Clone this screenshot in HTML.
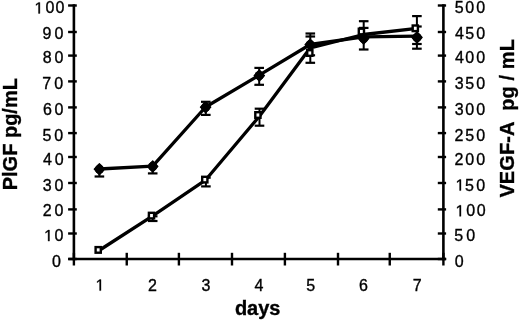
<!DOCTYPE html><html><head><meta charset="utf-8"><style>html,body{margin:0;padding:0;background:#fff;width:520px;height:320px;overflow:hidden}svg{display:block;will-change:transform}text{font-family:"Liberation Sans",sans-serif;fill:#000;stroke:#000;stroke-width:0.35px}</style></head><body>
<svg width="520" height="320" viewBox="0 0 520 320">
<rect width="520" height="320" fill="#fff"/>
<line x1="73.9" y1="4.3" x2="73.9" y2="260.2" stroke="#000" stroke-width="2.6"/>
<line x1="443.4" y1="4.3" x2="443.4" y2="260.2" stroke="#000" stroke-width="2.6"/>
<line x1="68.30000000000001" y1="259.0" x2="446.2" y2="259.0" stroke="#000" stroke-width="2.4"/>
<line x1="68.1" y1="5.5" x2="76.8" y2="5.5" stroke="#000" stroke-width="2.4"/>
<line x1="437.8" y1="5.5" x2="446.1" y2="5.5" stroke="#000" stroke-width="2.4"/>
<line x1="68.1" y1="32" x2="76.8" y2="32" stroke="#000" stroke-width="2.4"/>
<line x1="437.8" y1="32" x2="446.1" y2="32" stroke="#000" stroke-width="2.4"/>
<line x1="68.1" y1="55.6" x2="76.8" y2="55.6" stroke="#000" stroke-width="2.4"/>
<line x1="437.8" y1="55.6" x2="446.1" y2="55.6" stroke="#000" stroke-width="2.4"/>
<line x1="68.1" y1="81.4" x2="76.8" y2="81.4" stroke="#000" stroke-width="2.4"/>
<line x1="437.8" y1="81.4" x2="446.1" y2="81.4" stroke="#000" stroke-width="2.4"/>
<line x1="68.1" y1="107.4" x2="76.8" y2="107.4" stroke="#000" stroke-width="2.4"/>
<line x1="437.8" y1="107.4" x2="446.1" y2="107.4" stroke="#000" stroke-width="2.4"/>
<line x1="68.1" y1="133.1" x2="76.8" y2="133.1" stroke="#000" stroke-width="2.4"/>
<line x1="437.8" y1="133.1" x2="446.1" y2="133.1" stroke="#000" stroke-width="2.4"/>
<line x1="68.1" y1="157" x2="76.8" y2="157" stroke="#000" stroke-width="2.4"/>
<line x1="437.8" y1="157" x2="446.1" y2="157" stroke="#000" stroke-width="2.4"/>
<line x1="68.1" y1="183" x2="76.8" y2="183" stroke="#000" stroke-width="2.4"/>
<line x1="437.8" y1="183" x2="446.1" y2="183" stroke="#000" stroke-width="2.4"/>
<line x1="68.1" y1="209.4" x2="76.8" y2="209.4" stroke="#000" stroke-width="2.4"/>
<line x1="437.8" y1="209.4" x2="446.1" y2="209.4" stroke="#000" stroke-width="2.4"/>
<line x1="68.1" y1="233.5" x2="76.8" y2="233.5" stroke="#000" stroke-width="2.4"/>
<line x1="437.8" y1="233.5" x2="446.1" y2="233.5" stroke="#000" stroke-width="2.4"/>
<line x1="68.1" y1="259" x2="76.8" y2="259" stroke="#000" stroke-width="2.4"/>
<line x1="437.8" y1="259" x2="446.1" y2="259" stroke="#000" stroke-width="2.4"/>
<line x1="73.9" y1="252.8" x2="73.9" y2="265.5" stroke="#000" stroke-width="2.4"/>
<line x1="126.75" y1="252.8" x2="126.75" y2="265.5" stroke="#000" stroke-width="2.4"/>
<line x1="178.9" y1="252.8" x2="178.9" y2="265.5" stroke="#000" stroke-width="2.4"/>
<line x1="232.0" y1="252.8" x2="232.0" y2="265.5" stroke="#000" stroke-width="2.4"/>
<line x1="284.9" y1="252.8" x2="284.9" y2="265.5" stroke="#000" stroke-width="2.4"/>
<line x1="338.0" y1="252.8" x2="338.0" y2="265.5" stroke="#000" stroke-width="2.4"/>
<line x1="389.75" y1="252.8" x2="389.75" y2="265.5" stroke="#000" stroke-width="2.4"/>
<line x1="443.4" y1="252.8" x2="443.4" y2="265.5" stroke="#000" stroke-width="2.4"/>
<polyline fill="none" stroke="#000" stroke-width="3.3" stroke-linejoin="round" points="99.8,250.0 152.7,215.8 205.8,179.8 259.6,116.0 310.3,47.8 363.7,34.5 417.0,28.3"/>
<polyline fill="none" stroke="#000" stroke-width="3.3" stroke-linejoin="round" points="99.4,169.0 152.7,166.2 205.6,107.0 259.3,75.2 310.2,44.5 363.6,36.8 417.0,36.2"/>
<line x1="99.4" y1="169.2" x2="99.4" y2="176.5" stroke="#000" stroke-width="2"/>
<line x1="94.60000000000001" y1="176.5" x2="104.2" y2="176.5" stroke="#000" stroke-width="2.2"/>
<line x1="152.7" y1="166.4" x2="152.7" y2="173.4" stroke="#000" stroke-width="2"/>
<line x1="147.89999999999998" y1="173.4" x2="157.5" y2="173.4" stroke="#000" stroke-width="2.2"/>
<line x1="205.8" y1="101.8" x2="205.8" y2="114.9" stroke="#000" stroke-width="2"/>
<line x1="201.0" y1="101.8" x2="210.60000000000002" y2="101.8" stroke="#000" stroke-width="2.2"/>
<line x1="201.0" y1="114.9" x2="210.60000000000002" y2="114.9" stroke="#000" stroke-width="2.2"/>
<line x1="259.2" y1="67.9" x2="259.2" y2="84.8" stroke="#000" stroke-width="2"/>
<line x1="254.39999999999998" y1="67.9" x2="264.0" y2="67.9" stroke="#000" stroke-width="2.2"/>
<line x1="254.39999999999998" y1="84.8" x2="264.0" y2="84.8" stroke="#000" stroke-width="2.2"/>
<line x1="259.5" y1="108.7" x2="259.5" y2="125.7" stroke="#000" stroke-width="2"/>
<line x1="254.7" y1="108.7" x2="264.3" y2="108.7" stroke="#000" stroke-width="2.2"/>
<line x1="254.7" y1="125.7" x2="264.3" y2="125.7" stroke="#000" stroke-width="2.2"/>
<line x1="310.3" y1="33.5" x2="310.3" y2="62.8" stroke="#000" stroke-width="2"/>
<line x1="305.5" y1="33.5" x2="315.1" y2="33.5" stroke="#000" stroke-width="2.2"/>
<line x1="305.5" y1="36.5" x2="315.1" y2="36.5" stroke="#000" stroke-width="2.2"/>
<line x1="305.5" y1="55.3" x2="315.1" y2="55.3" stroke="#000" stroke-width="2.2"/>
<line x1="305.5" y1="62.8" x2="315.1" y2="62.8" stroke="#000" stroke-width="2.2"/>
<line x1="363.7" y1="21.2" x2="363.7" y2="49.5" stroke="#000" stroke-width="2"/>
<line x1="358.9" y1="21.2" x2="368.5" y2="21.2" stroke="#000" stroke-width="2.2"/>
<line x1="358.9" y1="27.9" x2="368.5" y2="27.9" stroke="#000" stroke-width="2.2"/>
<line x1="358.9" y1="49.5" x2="368.5" y2="49.5" stroke="#000" stroke-width="2.2"/>
<line x1="416.9" y1="16.1" x2="416.9" y2="48.7" stroke="#000" stroke-width="2"/>
<line x1="412.09999999999997" y1="16.1" x2="421.7" y2="16.1" stroke="#000" stroke-width="2.2"/>
<line x1="412.09999999999997" y1="26.5" x2="421.7" y2="26.5" stroke="#000" stroke-width="2.2"/>
<line x1="412.09999999999997" y1="44.0" x2="421.7" y2="44.0" stroke="#000" stroke-width="2.2"/>
<line x1="412.09999999999997" y1="48.7" x2="421.7" y2="48.7" stroke="#000" stroke-width="2.2"/>
<line x1="152.7" y1="215.6" x2="152.7" y2="221.0" stroke="#000" stroke-width="2"/>
<line x1="147.89999999999998" y1="216.3" x2="157.5" y2="216.3" stroke="#000" stroke-width="2.2"/>
<line x1="147.89999999999998" y1="221.0" x2="157.5" y2="221.0" stroke="#000" stroke-width="2.2"/>
<line x1="205.9" y1="177.7" x2="205.9" y2="186.4" stroke="#000" stroke-width="2"/>
<line x1="201.1" y1="177.7" x2="210.70000000000002" y2="177.7" stroke="#000" stroke-width="2.2"/>
<line x1="201.1" y1="186.4" x2="210.70000000000002" y2="186.4" stroke="#000" stroke-width="2.2"/>
<rect x="95.60000000000001" y="247.1" width="5.2" height="5.6" fill="#fff" stroke="#000" stroke-width="2.4"/>
<rect x="148.9" y="212.79999999999998" width="5.2" height="5.6" fill="#fff" stroke="#000" stroke-width="2.4"/>
<rect x="202.20000000000002" y="176.79999999999998" width="5.2" height="5.6" fill="#fff" stroke="#000" stroke-width="2.4"/>
<rect x="255.29999999999998" y="112.2" width="5.2" height="5.6" fill="#fff" stroke="#000" stroke-width="2.4"/>
<rect x="307.2" y="50.2" width="5.2" height="5.6" fill="#fff" stroke="#000" stroke-width="2.4"/>
<rect x="358.79999999999995" y="28.7" width="5.2" height="5.6" fill="#fff" stroke="#000" stroke-width="2.4"/>
<rect x="412.7" y="25.5" width="5.2" height="5.6" fill="#fff" stroke="#000" stroke-width="2.4"/>
<path d="M99.4 163.6L104.60000000000001 169.2L99.4 174.79999999999998L94.2 169.2Z" fill="#000" stroke="#000" stroke-width="1.2" stroke-linejoin="round"/>
<circle cx="99.4" cy="169.2" r="4.6" fill="#000"/>
<path d="M152.7 160.8L157.89999999999998 166.4L152.7 172.0L147.5 166.4Z" fill="#000" stroke="#000" stroke-width="1.2" stroke-linejoin="round"/>
<circle cx="152.7" cy="166.4" r="4.6" fill="#000"/>
<path d="M205.6 101.60000000000001L210.79999999999998 107.2L205.6 112.8L200.4 107.2Z" fill="#000" stroke="#000" stroke-width="1.2" stroke-linejoin="round"/>
<circle cx="205.6" cy="107.2" r="4.6" fill="#000"/>
<path d="M259.3 70.0L264.5 75.6L259.3 81.19999999999999L254.10000000000002 75.6Z" fill="#000" stroke="#000" stroke-width="1.2" stroke-linejoin="round"/>
<circle cx="259.3" cy="75.6" r="4.6" fill="#000"/>
<path d="M310.2 39.1L315.4 44.7L310.2 50.300000000000004L305.0 44.7Z" fill="#000" stroke="#000" stroke-width="1.2" stroke-linejoin="round"/>
<circle cx="310.2" cy="44.7" r="4.6" fill="#000"/>
<path d="M363.6 33.0L368.8 38.6L363.6 44.2L358.40000000000003 38.6Z" fill="#000" stroke="#000" stroke-width="1.2" stroke-linejoin="round"/>
<circle cx="363.6" cy="38.6" r="4.6" fill="#000"/>
<path d="M417.0 31.799999999999997L422.2 37.4L417.0 43.0L411.8 37.4Z" fill="#000" stroke="#000" stroke-width="1.2" stroke-linejoin="round"/>
<circle cx="417.0" cy="37.4" r="4.6" fill="#000"/>
<path transform="translate(34.46 13.40) scale(0.007812 -0.007812)" d="M515 0L515 1237L197 1010L197 1180L530 1409L696 1409L696 0Z" fill="#000" stroke="#000" stroke-width="45"/>
<text x="45.38" y="13.40" font-size="16">0</text>
<text x="55.38" y="13.40" font-size="16">0</text>
<text x="42.55" y="39.25" font-size="16">9</text>
<text x="54.48" y="39.25" font-size="16">0</text>
<text x="42.70" y="63.45" font-size="16">8</text>
<text x="54.58" y="63.45" font-size="16">0</text>
<text x="42.28" y="89.00" font-size="16">7</text>
<text x="54.28" y="89.00" font-size="16">0</text>
<text x="43.09" y="114.85" font-size="16">6</text>
<text x="54.58" y="114.85" font-size="16">0</text>
<text x="42.56" y="141.00" font-size="16">5</text>
<text x="54.28" y="141.00" font-size="16">0</text>
<text x="43.03" y="165.40" font-size="16">4</text>
<text x="54.68" y="165.40" font-size="16">0</text>
<text x="42.79" y="190.55" font-size="16">3</text>
<text x="54.58" y="190.55" font-size="16">0</text>
<text x="42.80" y="216.30" font-size="16">2</text>
<text x="54.58" y="216.30" font-size="16">0</text>
<path transform="translate(44.06 241.10) scale(0.007812 -0.007812)" d="M515 0L515 1237L197 1010L197 1180L530 1409L696 1409L696 0Z" fill="#000" stroke="#000" stroke-width="45"/>
<text x="54.38" y="241.10" font-size="16">0</text>
<text x="51.88" y="267.30" font-size="16">0</text>
<text x="454.66" y="13.40" font-size="16">5</text>
<text x="465.18" y="13.40" font-size="16">0</text>
<text x="476.28" y="13.40" font-size="16">0</text>
<text x="454.93" y="39.25" font-size="16">4</text>
<text x="465.16" y="39.25" font-size="16">5</text>
<text x="476.28" y="39.25" font-size="16">0</text>
<text x="454.93" y="63.45" font-size="16">4</text>
<text x="465.18" y="63.45" font-size="16">0</text>
<text x="476.28" y="63.45" font-size="16">0</text>
<text x="454.69" y="89.00" font-size="16">3</text>
<text x="465.16" y="89.00" font-size="16">5</text>
<text x="476.28" y="89.00" font-size="16">0</text>
<text x="454.69" y="114.85" font-size="16">3</text>
<text x="465.18" y="114.85" font-size="16">0</text>
<text x="476.28" y="114.85" font-size="16">0</text>
<text x="454.50" y="141.00" font-size="16">2</text>
<text x="465.16" y="141.00" font-size="16">5</text>
<text x="476.28" y="141.00" font-size="16">0</text>
<text x="454.50" y="165.40" font-size="16">2</text>
<text x="465.18" y="165.40" font-size="16">0</text>
<text x="476.28" y="165.40" font-size="16">0</text>
<path transform="translate(455.56 190.55) scale(0.007812 -0.007812)" d="M515 0L515 1237L197 1010L197 1180L530 1409L696 1409L696 0Z" fill="#000" stroke="#000" stroke-width="45"/>
<text x="464.96" y="190.55" font-size="16">5</text>
<text x="476.28" y="190.55" font-size="16">0</text>
<path transform="translate(455.56 216.30) scale(0.007812 -0.007812)" d="M515 0L515 1237L197 1010L197 1180L530 1409L696 1409L696 0Z" fill="#000" stroke="#000" stroke-width="45"/>
<text x="466.28" y="216.30" font-size="16">0</text>
<text x="476.68" y="216.30" font-size="16">0</text>
<text x="454.26" y="241.10" font-size="16">5</text>
<text x="466.23" y="241.10" font-size="16">0</text>
<text x="454.73" y="267.30" font-size="16">0</text>
<path transform="translate(95.56 290.60) scale(0.007812 -0.007812)" d="M515 0L515 1237L197 1010L197 1180L530 1409L696 1409L696 0Z" fill="#000" stroke="#000" stroke-width="45"/>
<text x="148.05" y="290.60" font-size="16">2</text>
<text x="201.50" y="290.60" font-size="16">3</text>
<text x="254.40" y="290.60" font-size="16">4</text>
<text x="306.17" y="290.60" font-size="16">5</text>
<text x="359.00" y="290.60" font-size="16">6</text>
<text x="412.65" y="290.60" font-size="16">7</text>
<text x="257.7" y="314.6" font-size="20" font-weight="bold" text-anchor="middle">days</text>
<text transform="translate(16.6 190.3) rotate(-90)" font-size="20" font-weight="bold">PlGF pg/mL</text>
<text transform="translate(513.7 197.6) rotate(-90)" font-size="20" font-weight="bold" letter-spacing="0.11" xml:space="preserve">VEGF-A  pg / mL</text>
</svg></body></html>
